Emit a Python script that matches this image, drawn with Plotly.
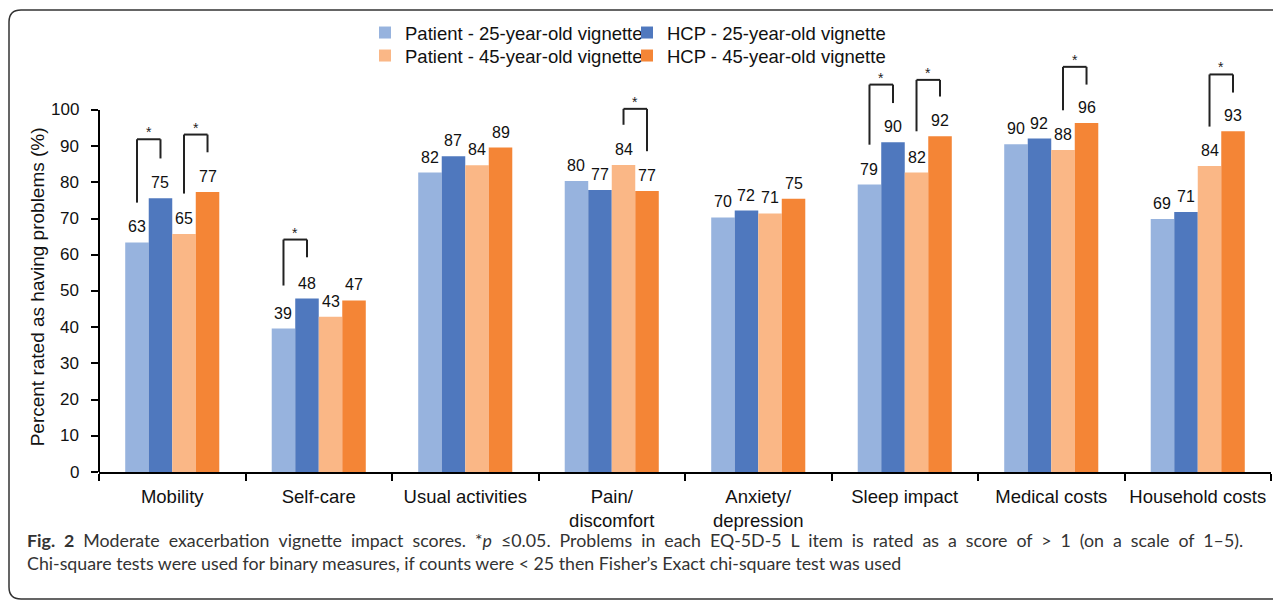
import plotly.graph_objects as go

# ---------------- data ----------------
categories = ["Mobility", "Self-care", "Usual activities", "Pain/<br>discomfort",
              "Anxiety/<br>depression", "Sleep impact", "Medical costs", "Household costs"]
series_names = ["Patient - 25-year-old vignette", "HCP - 25-year-old vignette",
                "Patient - 45-year-old vignette", "HCP - 45-year-old vignette"]

patient_25 = [63.4, 39.6, 82.7, 80.4, 70.3, 79.4, 90.5, 69.9]
hcp_25 = [75.6, 47.9, 87.2, 77.9, 72.2, 91.1, 92.1, 71.8]
patient_45 = [65.7, 42.9, 84.7, 84.8, 71.4, 82.7, 88.9, 84.5]
hcp_45 = [77.3, 47.4, 89.6, 77.6, 75.5, 92.7, 96.4, 94.1]

patient_25_labels = [63, 39, 82, 80, 70, 79, 90, 69]
hcp_25_labels = [75, 48, 87, 77, 72, 90, 92, 71]
patient_45_labels = [65, 43, 84, 84, 71, 82, 88, 84]
hcp_45_labels = [77, 47, 89, 77, 75, 92, 96, 93]

y_ticks = [0, 10, 20, 30, 40, 50, 60, 70, 80, 90, 100]

# significance brackets: (category index, left bar, right bar, left leg end, top, right leg end)
brackets = [
    (0, 0, 1, 74.4, 91.9, 86.6),
    (0, 2, 3, 76.9, 93.2, 88.3),
    (1, 0, 1, 51.5, 64.2, 59.3),
    (3, 2, 3, 95.9, 100.3, 88.6),
    (5, 0, 1, 90.4, 107.0, 101.9),
    (5, 2, 3, 94.1, 108.3, 103.7),
    (6, 2, 3, 99.9, 111.9, 107.0),
    (7, 2, 3, 95.4, 109.8, 104.8),
]

caption_words_1 = ["<b>Fig.", "2</b>", "Moderate", "exacerbation", "vignette", "impact", "scores.",
                   "*<i>p</i>", "\u22640.05.", "Problems", "in", "each", "EQ-5D-5", "L", "item", "is",
                   "rated", "as", "a", "score", "of", "&gt;", "1", "(on", "a", "scale", "of", "1\u20135)."]
caption_line2 = ("Chi-square tests were used for binary measures, if counts were &lt; 25 then "
                 "Fisher\u2019s Exact chi-square test was used")

# ---------------- style ----------------
colors = ["#97B3DE", "#4F78BE", "#FAB786", "#F48536"]
OFF = 8                      # page body margin of the html page
W, H = 1281 - OFF, 601 - OFF
PLOT_L, PLOT_R, PLOT_T, PLOT_B = 99, 1271, 52, 472   # page pixel positions of plot area
ML, MR, MT = PLOT_L - OFF, W - (PLOT_R - OFF), PLOT_T - OFF
MB = H - (PLOT_B - OFF)
PW, PH = PLOT_R - PLOT_L, PLOT_B - PLOT_T
BARGAP = 0.358
FONT = "Liberation Sans, Arial, sans-serif"
YMAX = 116


def px_x(px):
    return (px - PLOT_L) / PW


def px_y(py):
    return (PLOT_B - py) / PH


values = [patient_25, hcp_25, patient_45, hcp_45]
labels = [patient_25_labels, hcp_25_labels, patient_45_labels, hcp_45_labels]
bar_w = (1 - BARGAP) / 4


def bar_center(cat, j):
    return cat + (j - 1.5) * bar_w


fig = go.Figure()
for j in range(4):
    fig.add_trace(go.Bar(
        x=categories, y=values[j], name=series_names[j],
        marker=dict(color=colors[j], line=dict(width=0)),
        legend="legend" if j < 2 else "legend2",
    ))

annotations = []
for j in range(4):
    for i in range(len(categories)):
        annotations.append(dict(
            x=bar_center(i, j), y=values[j][i], xref="x", yref="y",
            text=str(labels[j][i]), showarrow=False, yanchor="bottom",
            yshift=5, font=dict(family=FONT, size=16, color="#111111"),
        ))

# y tick labels (placed a little further from the axis than plotly's default)
for v in y_ticks:
    annotations.append(dict(
        x=px_x(81), y=v, xref="paper", yref="y", text=str(v), showarrow=False,
        xanchor="right", yanchor="middle", font=dict(family=FONT, size=17, color="#111111"),
    ))

shapes = []
line_style = dict(color="#222222", width=2)
for cat, a, b, yl, yt, yr in brackets:
    xa, xb = bar_center(cat, a), bar_center(cat, b)
    shapes.append(dict(type="line", xref="x", yref="y", x0=xa, x1=xa, y0=yl, y1=yt, line=line_style))
    shapes.append(dict(type="line", xref="x", yref="y", x0=xa, x1=xb, y0=yt, y1=yt, line=line_style))
    shapes.append(dict(type="line", xref="x", yref="y", x0=xb, x1=xb, y0=yt, y1=yr, line=line_style))
    annotations.append(dict(
        x=(xa + xb) / 2, y=yt, xref="x", yref="y", text="*", showarrow=False,
        yanchor="bottom", yshift=-3, font=dict(family=FONT, size=14, color="#222222"),
    ))

# y axis line (0-100 only)
shapes.append(dict(type="line", xref="paper", yref="y", x0=0, x1=0, y0=0, y1=100,
                   line=dict(color="black", width=2)))

# figure frame (rounded left corners, open to the right)
L, T, B, R, r = 9, 10, 599, 1300, 12
path = (f"M {px_x(R)},{px_y(T)} L {px_x(L + r)},{px_y(T)} "
        f"Q {px_x(L)},{px_y(T)} {px_x(L)},{px_y(T + r)} "
        f"L {px_x(L)},{px_y(B - r)} "
        f"Q {px_x(L)},{px_y(B)} {px_x(L + r)},{px_y(B)} "
        f"L {px_x(R)},{px_y(B)}")
shapes.append(dict(type="path", xref="paper", yref="paper", path=path,
                   line=dict(color="#333333", width=1.5)))

# y axis title
annotations.append(dict(
    x=px_x(37), y=51, xref="paper", yref="y", text="Percent rated as having problems (%)",
    textangle=-90, showarrow=False, xanchor="center", yanchor="middle",
    font=dict(family=FONT, size=19, color="#111111"),
))

# caption (first line justified: slightly widened word spaces)
caption_line1 = " \u2009\u2009".join(caption_words_1)
annotations.append(dict(x=px_x(25), y=px_y(540), xref="paper", yref="paper", text=caption_line1,
                        showarrow=False, xanchor="left", yanchor="middle",
                        font=dict(family="Lato, sans-serif", size=17.8, color="#333333")))
annotations.append(dict(x=px_x(25), y=px_y(563), xref="paper", yref="paper", text=caption_line2,
                        showarrow=False, xanchor="left", yanchor="middle",
                        font=dict(family="Lato, sans-serif", size=17.8, color="#333333")))

legend_common = dict(orientation="h", xanchor="left", yanchor="top", entrywidth=217,
                     entrywidthmode="pixels", itemwidth=30, traceorder="normal",
                     font=dict(family=FONT, size=18.5, color="#111111"),
                     bgcolor="rgba(0,0,0,0)", borderwidth=0)

fig.update_layout(
    width=W, height=H,
    margin=dict(l=ML, r=MR, t=MT, b=MB, autoexpand=False),
    paper_bgcolor="white", plot_bgcolor="white",
    barmode="group", bargap=BARGAP, bargroupgap=0,
    showlegend=True,
    legend=dict(x=px_x(365), y=px_y(14), **legend_common),
    legend2=dict(x=px_x(365), y=px_y(37), **legend_common),
    xaxis=dict(
        type="category", showline=True, linecolor="black", linewidth=2,
        ticks="outside", tickson="boundaries", ticklen=7, tickwidth=2, tickcolor="black",
        tickfont=dict(family=FONT, size=18.5, color="#111111"), showgrid=False,
        zeroline=False, ticklabelstandoff=7, tickangle=0,
    ),
    yaxis=dict(
        range=[0, YMAX], tickvals=y_ticks, showticklabels=False,
        showline=False, showgrid=False, zeroline=False,
        ticks="outside", ticklen=7, tickwidth=2, tickcolor="black",
    ),
    shapes=shapes, annotations=annotations,
)

fig.write_html("out.html")
